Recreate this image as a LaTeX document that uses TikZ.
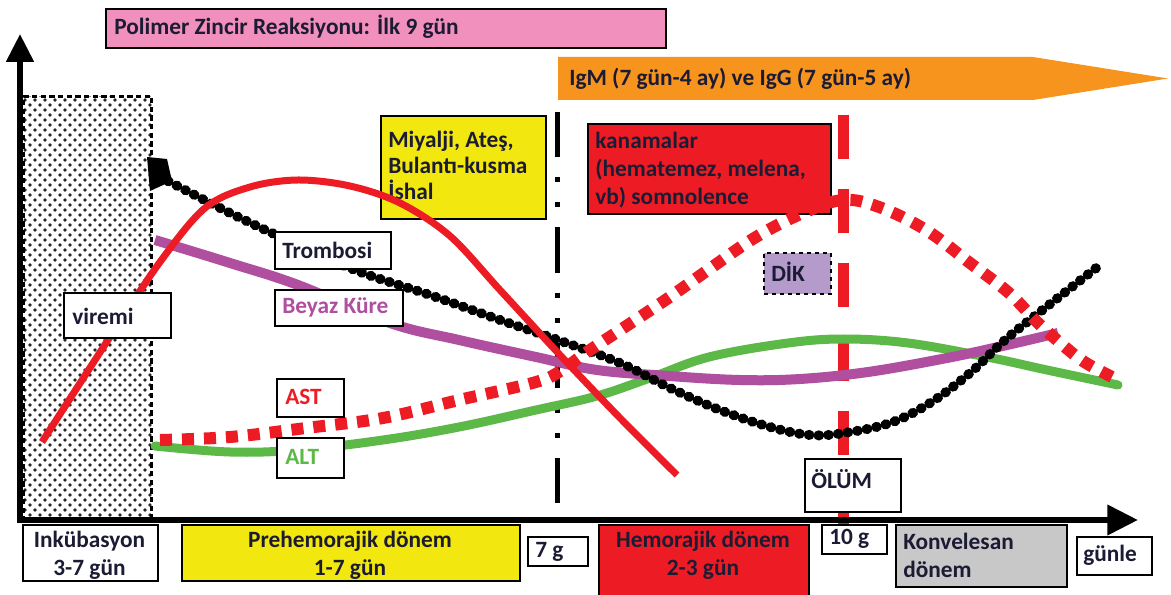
\documentclass[tikz,border=0pt]{standalone}
\usepackage{fontspec}
\setmainfont{Carlito}
\usetikzlibrary{arrows.meta,patterns}
\definecolor{pinkbox}{HTML}{F190BD}
\definecolor{orangebar}{HTML}{F7941D}
\definecolor{yellowbox}{HTML}{F2E70F}
\definecolor{redc}{HTML}{ED1C24}
\definecolor{greyc}{HTML}{C8C8C8}
\definecolor{lilac}{HTML}{B49BCB}
\definecolor{greenc}{HTML}{5CB947}
\definecolor{purplec}{HTML}{B04E9F}
\definecolor{navy}{HTML}{1B1B33}
\newcommand\lblfont{\fontsize{17.5}{21}\selectfont\bfseries}
\newcommand\lblfontb{\fontsize{17.5}{19.5}\selectfont\bfseries}
\pgfdeclarepatternformonly{incdots}{\pgfqpoint{-1.5pt}{-1.5pt}}{\pgfqpoint{5.3pt}{5.3pt}}{\pgfqpoint{7.5pt}{7.5pt}}{%
  \pgfpathcircle{\pgfqpoint{0pt}{0pt}}{1.35pt}%
  \pgfpathcircle{\pgfqpoint{3.75pt}{3.75pt}}{1.35pt}%
  \pgfusepath{fill}}
\begin{document}
\begin{tikzpicture}[x=0.75pt,y=-0.75pt,
  box/.style={draw=black,line width=1.5pt,inner sep=0pt,anchor=north west},
  txt/.style={font=\lblfont,inner sep=0pt,text=navy,anchor=west,align=left},
  ctxt/.style={font=\lblfont,inner sep=0pt,text=navy,align=center},
  trombo/.style={black,line width=7.5pt,line cap=round,dash pattern=on 0.5pt off 6.8pt},
  astline/.style={redc,line width=9pt,dash pattern=on 9pt off 7.5pt},
  altline/.style={greenc,line width=6.75pt,line cap=round},
  wbcline/.style={purplec,line width=7.5pt},
  virline/.style={redc,line width=5.25pt},
  axis/.style={black,line width=4.5pt}
]
\useasboundingbox (0,0) rectangle (1171,595);
\fill[white] (0,0) rectangle (1171,595);

% incubation hatched area
\node[box,draw=black,dash pattern=on 4pt off 2.5pt,line width=2.25pt,pattern=incdots,pattern color=black!85,
      minimum width=96pt,minimum height=318.75pt] (inc) at (22,95) {};

% symptom boxes
\node[box,fill=yellowbox,minimum width=123.75pt,minimum height=77.25pt] (sym) at (380,115) {};
\node[txt,font=\lblfontb] (symt) at (388,165) {Miyalji, Ateş,\\Bulantı-kusma\\İshal};
\node[box,fill=redc,minimum width=182.25pt,minimum height=67.5pt] (kan) at (587,123) {};
\node[txt] (kant) at (595,170) {kanamalar\\(hematemez, melena,\\vb) somnolence};

% vertical markers
\coordinate (d7top) at (557,112);
\coordinate (d7bot) at (557,520);
\draw[black,line width=3.75pt,dash pattern=on 34pt off 15pt on 3.75pt off 15pt on 3.75pt off 15pt] (d7top) -- (d7bot);
\coordinate (d10top) at (843,115);
\coordinate (d10bot) at (843,527);
\draw[redc,line width=8.25pt,dash pattern=on 33pt off 22.5pt] (d10top) -- (d10bot);

% curves
\draw[altline] plot[smooth,tension=0.6] coordinates {(155,446) (230,452) (298,450) (383,440) (459,427) (536,410) (597,396) (650,378) (709,357) (788,343) (844,339) (908,343) (987,357) (1047,370) (1118,385)};
\draw[wbcline] plot[smooth,tension=0.6] coordinates {(155,240) (230,263) (298,285) (390,323) (459,340) (536,357) (597,370) (669,376) (740,380) (800,379) (868,372) (947,358) (1007,345) (1058,333)};
\draw[trombo] plot[smooth,tension=0.6] coordinates {(168,181) (230,213) (300,246) (360,272) (430,295) (500,320) (558,340) (620,363) (670,388) (720,410) (770,427) (810,435) (844,433) (890,423) (930,403) (970,373) (1005,340) (1045,308) (1100,265)};
\fill[black] (147,157) -- (167,159) -- (172,181) -- (150,191) -- cycle;
\draw[astline] plot[smooth,tension=0.6] coordinates {(160,440) (230,437) (306,428) (383,418) (459,400) (536,382) (562,370) (590,350) (661,303) (708,270) (756,237) (803,213) (843,200) (879,207) (926,230) (970,263) (1009,293) (1037,322) (1065,347) (1086,363) (1118,380)};
\draw[virline] plot[smooth,tension=0.55] coordinates {(42,442) (110,337) (160,262) (205,208) (250,187) (298,180) (350,186) (400,203) (450,236) (500,290) (560,355) (620,418) (677,475)};

% curve labels
\node[box,fill=white,minimum width=80.25pt,minimum height=33.75pt] (vir) at (63,292) {};
\node[txt] (virt) at (72,316) {viremi};
\node[box,fill=white,minimum width=87pt,minimum height=27.75pt] (tro) at (274,231) {};
\node[txt] (trot) at (282,250) {Trombosi};
\node[box,fill=white,minimum width=96pt,minimum height=27pt] (wbc) at (274,289) {};
\node[txt,text=purplec] (wbct) at (282,307) {Beyaz Küre};
\node[box,fill=white,minimum width=50.25pt,minimum height=28.5pt] (ast) at (276,378) {};
\node[txt,text=redc] (astt) at (285,397) {AST};
\node[box,fill=white,minimum width=50.25pt,minimum height=30pt] (alt) at (276,437) {};
\node[txt,text=greenc] (altt) at (285,457) {ALT};
\node[box,fill=lilac,dashed,minimum width=50.25pt,minimum height=30.75pt] (dik) at (763,252) {};
\node[txt] (dikt) at (771,272) {DİK};
\node[box,fill=white,minimum width=72pt,minimum height=39.75pt] (olum) at (804,458) {};
\node[txt] (olumt) at (811,479) {ÖLÜM};

% axes
\coordinate (yb) at (20,523);
\coordinate (yt) at (20,34);
\draw[axis,-{Triangle[length=21pt,width=20pt]}] (yb) -- (yt);
\coordinate (xl) at (17,520);
\coordinate (xr) at (1138,520);
\draw[axis,-{Triangle[length=23pt,width=22pt]}] (xl) -- (xr);

% bottom period boxes
\node[box,fill=white,minimum width=101.25pt,minimum height=42pt] (ink) at (22,524) {};
\node[ctxt] (inkt) at (89.5,555) {Inkübasyon\\3-7 gün};
\node[box,fill=yellowbox,minimum width=253.5pt,minimum height=42pt] (pre) at (181,524) {};
\node[ctxt] (pret) at (350,555) {Prehemorajik dönem\\1-7 gün};
\node[box,fill=white,minimum width=45pt,minimum height=21.75pt] (g7) at (527,536) {};
\node[txt] (g7t) at (535,552) {7 g};
\node[box,fill=redc,minimum width=157.5pt,minimum height=53.25pt] (hem) at (598,524) {};
\node[ctxt] (hemt) at (703,555) {Hemorajik dönem\\2-3 gün};
\node[box,fill=white,minimum width=48.75pt,minimum height=21.75pt] (g10) at (821,524) {};
\node[txt] (g10t) at (829,539) {10 g};
\node[box,fill=greyc,minimum width=128.25pt,minimum height=46.5pt] (kon) at (895,524) {};
\node[txt] (kont) at (903,555) {Konvelesan\\dönem};
\node[box,fill=white,minimum width=56.25pt,minimum height=28.5pt] (gun) at (1076,536) {};
\node[txt] (gunt) at (1083,555) {günle};

% top bars
\node[box,fill=pinkbox,minimum width=420pt,minimum height=29.25pt] (pcr) at (105,8) {};
\node[txt] (pcrt) at (114,27) {Polimer Zincir Reaksiyonu: İlk 9 gün};
\fill[orangebar] (558,57) -- (1033,57) -- (1168,78.5) -- (1033,100) -- (558,100) -- cycle;
\node[txt] (igm) at (569,79) {IgM (7 gün-4 ay) ve IgG (7 gün-5 ay)};
\end{tikzpicture}
\end{document}
